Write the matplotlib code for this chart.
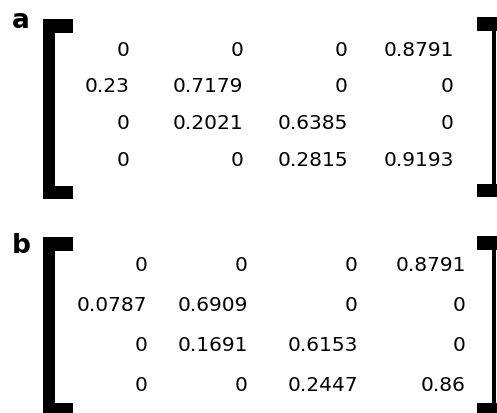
import matplotlib
matplotlib.use("Agg")
import matplotlib.pyplot as plt
from matplotlib.patches import Rectangle

# matrix values
panel_labels = ["a", "b"]
matrix_a = [["0", "0", "0", "0.8791"],
            ["0.23", "0.7179", "0", "0"],
            ["0", "0.2021", "0.6385", "0"],
            ["0", "0", "0.2815", "0.9193"]]
matrix_b = [["0", "0", "0", "0.8791"],
            ["0.0787", "0.6909", "0", "0"],
            ["0", "0.1691", "0.6153", "0"],
            ["0", "0", "0.2447", "0.86"]]

W, H = 497, 414

# layout in pixel units (x right edge of each column, y centre of each row)
layouts = [
    dict(cols=[130, 243, 348, 454], rows=[48.5, 85.5, 122.5, 159.5],
         label_xy=(12, 28), left=(20, 200), right=(18, 198)),
    dict(cols=[147, 248, 358, 466], rows=[264, 304, 344, 384],
         label_xy=(12, 253), left=(238, 418), right=(237, 418)),
]


def draw_bracket(ax, x_bar, bar_w, x_serif, serif_w, top, bottom, serif_h):
    ax.add_patch(Rectangle((x_bar, top), bar_w, bottom - top, color="black", lw=0))
    ax.add_patch(Rectangle((x_serif, top), serif_w, serif_h, color="black", lw=0))
    ax.add_patch(Rectangle((x_serif, bottom - serif_h), serif_w, serif_h, color="black", lw=0))


fig = plt.figure(figsize=(W / 100, H / 100), dpi=100)
ax = fig.add_axes([0, 0, 1, 1])
ax.set_xlim(0, W)
ax.set_ylim(H, 0)
ax.axis("off")

for label, matrix, lay in zip(panel_labels, [matrix_a, matrix_b], layouts):
    ax.text(lay["label_xy"][0], lay["label_xy"][1], label, fontsize=19,
            fontweight="bold", family="DejaVu Sans", ha="left", va="baseline")
    for i, row in enumerate(matrix):
        for j, val in enumerate(row):
            ax.text(lay["cols"][j], lay["rows"][i] + 7, val, fontsize=14.5,
                    family="DejaVu Sans", ha="right", va="baseline")
    top, bottom = lay["left"]
    draw_bracket(ax, 43, 12, 43, 30, top, bottom, 13.5)
    top, bottom = lay["right"]
    draw_bracket(ax, 491.5, 4, 477, 25, top, bottom, 13.5)

fig.savefig("out.png", dpi=100)
